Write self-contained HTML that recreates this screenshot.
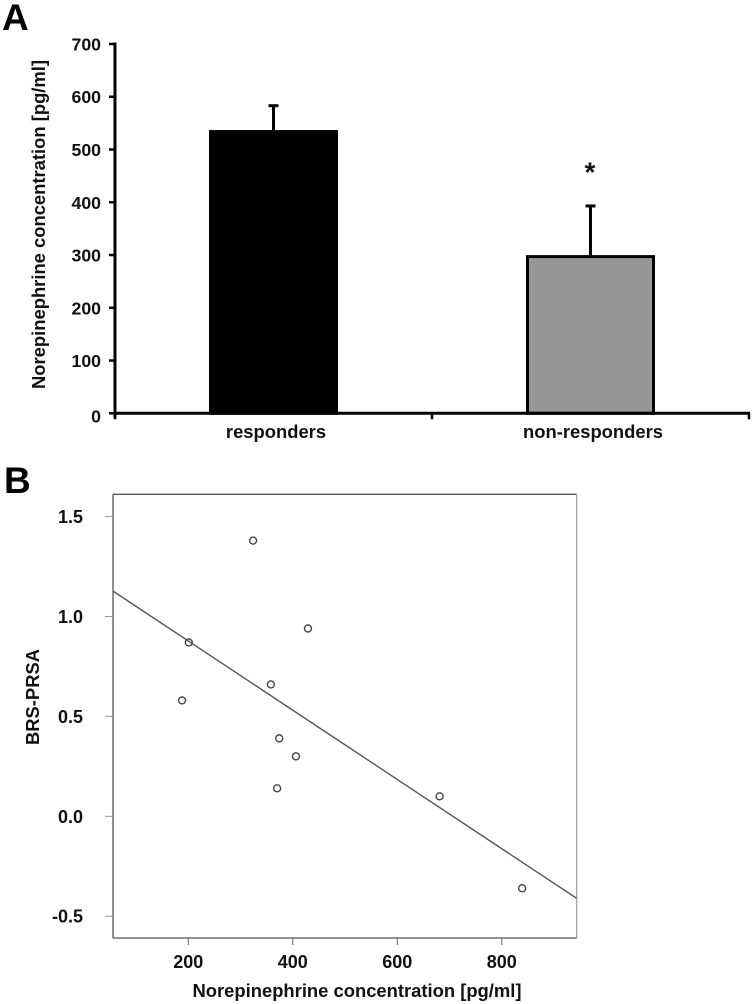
<!DOCTYPE html>
<html lang="en">
<head>
<meta charset="utf-8">
<title>Norepinephrine concentration charts</title>
<style>
html,body{margin:0;padding:0;background:#fff;}
svg{display:block;}
text{font-family:"Liberation Sans",Arial,sans-serif;font-weight:bold;fill:#111;}
</style>
</head>
<body>
<svg id="fig" xmlns="http://www.w3.org/2000/svg" width="753" height="1004" viewBox="0 0 753 1004">
  <rect width="753" height="1004" fill="#fff"/>
  <text x="2" y="30" font-size="37" style="fill:#000">A</text>
  <text x="4" y="493" font-size="37" style="fill:#000">B</text>
  <g id="panelA"></g>
  <g id="panelB"></g>
</svg>
<script>
// Panel A data
const barCategories = ['responders', 'non-responders'];
const barValues = [534, 297];
const barErrors = [49, 96];
const barFills = ['#000000', '#969696'];
const barTicks = [0, 100, 200, 300, 400, 500, 600, 700];

// Panel B data
const scatterX = [324, 429, 201, 358, 188, 374, 406, 370, 681, 839];
const scatterY = [1.38, 0.94, 0.87, 0.66, 0.58, 0.39, 0.30, 0.14, 0.10, -0.36];
const fitX = [56, 943];
const fitY = [1.127, -0.41];
const scatterXTicks = [200, 400, 600, 800];
const scatterYTicks = [-0.5, 0.0, 0.5, 1.0, 1.5];

const NS = 'http://www.w3.org/2000/svg';
function mk(parent, tag, attrs, txt) {
  const el = document.createElementNS(NS, tag);
  for (const k in attrs) el.setAttribute(k, attrs[k]);
  if (txt !== undefined) el.textContent = txt;
  parent.appendChild(el);
  return el;
}
let el;

// ---------- Panel A ----------
const A = document.getElementById('panelA');
const aY = v => 413.3 - v * 0.5276;
const aLeft = 115, aRight = 749;
const aBand = (aRight - aLeft) / barCategories.length;
const aX = i => aLeft + aBand * (i + 0.5);
const aBarW = 126;

barCategories.forEach((c, i) => {
  const cx = aX(i);
  const top = aY(barValues[i]);
  const errTop = aY(barValues[i] + barErrors[i]);
  el = mk(A, 'line', {x1: cx, x2: cx, y1: top, y2: errTop, stroke: '#000', 'stroke-width': 3});
  
  
  el = mk(A, 'line', {x1: cx - 5, x2: cx + 5, y1: errTop, y2: errTop, stroke: '#000', 'stroke-width': 3});
  
  
  el = mk(A, 'rect', {x: cx - aBarW / 2, y: top, width: aBarW, height: aY(0) - top, fill: barFills[i], stroke: '#000', 'stroke-width': 3});
  
  
  el = mk(A, 'text', {x: cx + 2.5, y: 438, 'font-size': 18.4, 'text-anchor': 'middle'}, c);
  
  
});

el = mk(A, 'line', {x1: aLeft, x2: aLeft, y1: aY(700) - 1.5, y2: aY(0) + 5, stroke: '#000', 'stroke-width': 3});


el = mk(A, 'line', {x1: aLeft, x2: aRight + 1, y1: aY(0), y2: aY(0), stroke: '#000', 'stroke-width': 3});



barTicks.forEach(t => {
  el = mk(A, 'line', {x1: aLeft - 6, x2: aLeft, y1: aY(t), y2: aY(t), stroke: '#000', 'stroke-width': 2.5});
  
  
  el = mk(A, 'text', {x: 101, y: aY(t) + (t === 0 ? 9 : 6.5), 'font-size': 17.7, 'text-anchor': 'end'}, String(t));
  
  
});
for (let i = 0; i <= barCategories.length; i++) {
  const tx = aLeft + aBand * i;
  el = mk(A, 'line', {x1: tx, x2: tx, y1: aY(0), y2: aY(0) + 6, stroke: '#000', 'stroke-width': 2.5});
  
  
}

el = mk(A, 'text', {transform: 'translate(45 224.5) rotate(-90)', 'font-size': 18.4, 'text-anchor': 'middle'}, 'Norepinephrine concentration [pg/ml]');



el = mk(A, 'text', {x: 590, y: 181.5, 'font-size': 28, 'text-anchor': 'middle'}, '*');



// ---------- Panel B ----------
const B = document.getElementById('panelB');
const bX = v => 188.3 + (v - 200) * 0.5225;
const bY = v => 816.3 - v * 199.8;
const bL = 113, bR = 576.7, bT = 494.3, bB = 938;

el = mk(B, 'line', {x1: bL, x2: bR, y1: bT, y2: bT, stroke: '#555', 'stroke-width': 1.3});


el = mk(B, 'line', {x1: bR, x2: bR, y1: bT, y2: bB, stroke: '#a8a8a8', 'stroke-width': 1.3});


el = mk(B, 'line', {x1: bL, x2: bL, y1: bT, y2: bB, stroke: '#555', 'stroke-width': 1.3});


el = mk(B, 'line', {x1: bL, x2: bR, y1: bB, y2: bB, stroke: '#555', 'stroke-width': 1.3});



scatterYTicks.forEach(t => {
  el = mk(B, 'line', {x1: bL - 8, x2: bL, y1: bY(t), y2: bY(t), stroke: '#999', 'stroke-width': 1});
  
  
  el = mk(B, 'text', {x: 83, y: bY(t) + 6.5, 'font-size': 18, 'text-anchor': 'end'}, t.toFixed(1));
  
  
});
scatterXTicks.forEach(t => {
  el = mk(B, 'line', {x1: bX(t), x2: bX(t), y1: bB, y2: bB + 7, stroke: '#666', 'stroke-width': 1});
  
  
  el = mk(B, 'text', {x: bX(t), y: 968, 'font-size': 18, 'text-anchor': 'middle'}, String(t));
  
  
});

el = mk(B, 'line', {x1: bX(fitX[0]), y1: bY(fitY[0]), x2: bX(fitX[1]), y2: bY(fitY[1]), stroke: '#555', 'stroke-width': 1.4});



scatterX.forEach((x, i) => {
  el = mk(B, 'circle', {cx: bX(x), cy: bY(scatterY[i]), r: 3.5, fill: 'none', stroke: '#444', 'stroke-width': 1.4});
  
  
});

el = mk(B, 'text', {x: 357, y: 997, 'font-size': 18.4, 'text-anchor': 'middle'}, 'Norepinephrine concentration [pg/ml]');


el = mk(B, 'text', {transform: 'translate(39 697) rotate(-90)', 'font-size': 18.4, 'text-anchor': 'middle'}, 'BRS-PRSA');


</script>
</body>
</html>
